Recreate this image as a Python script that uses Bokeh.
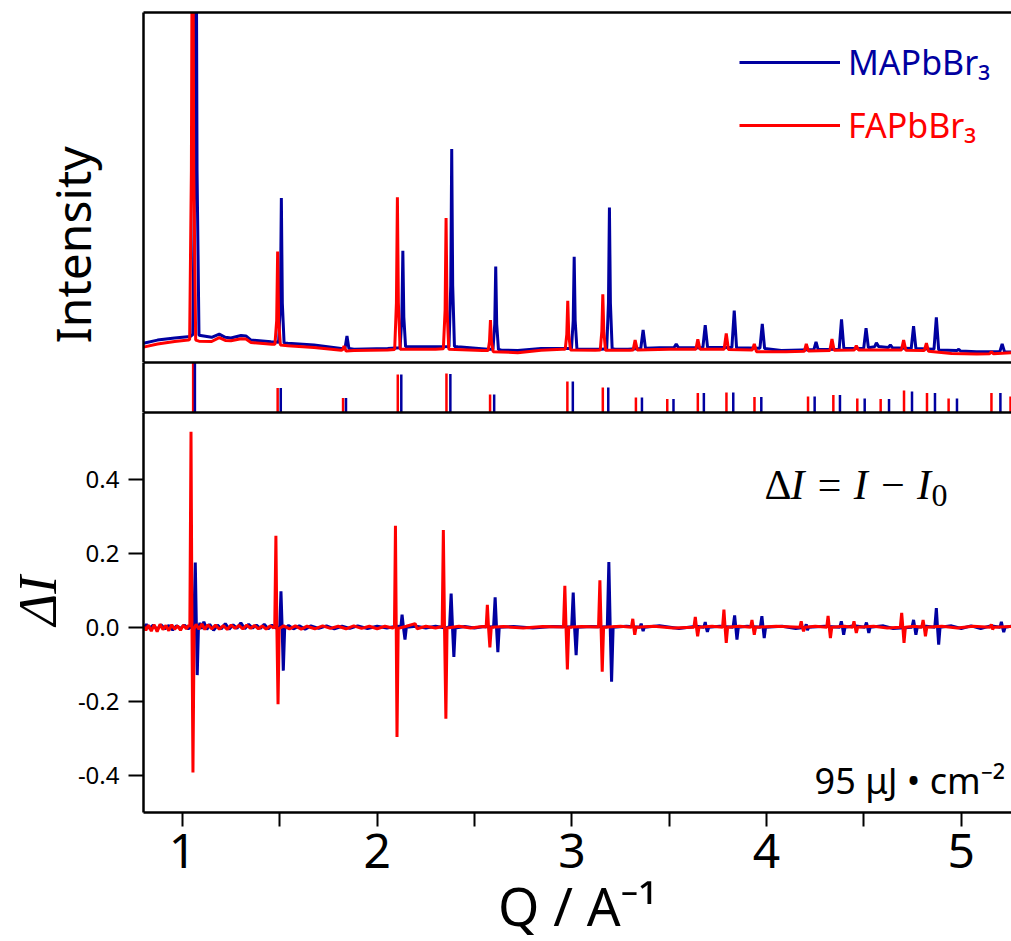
from bokeh.plotting import figure
from bokeh.layouts import column
from bokeh.models import (Range1d, FixedTicker, NumeralTickFormatter, Label, Title,
                          Legend, LegendItem, LinearAxis)
from bokeh.embed import file_html
from bokeh.resources import INLINE

BLUE = "#0000A0"
RED = "#FF0000"

# ---------------- data ----------------
# Powder patterns (top panel): (Q, intensity) points
ma_pattern = [
    (0.800, 0.055), (0.872, 0.064), (0.960, 0.070), (1.040, 0.074),
    (1.053, 0.080), (1.063, 0.55), (1.069, 1.60), (1.075, 0.55), (1.085, 0.078),
    (1.150, 0.072), (1.189, 0.081), (1.220, 0.072), (1.249, 0.070), (1.301, 0.077),
    (1.326, 0.076), (1.352, 0.064), (1.455, 0.059),
    (1.494, 0.058), (1.503, 0.17), (1.508, 0.47), (1.513, 0.17), (1.522, 0.056),
    (1.541, 0.055), (1.676, 0.050), (1.815, 0.040),
    (1.835, 0.041), (1.845, 0.076), (1.855, 0.040),
    (1.881, 0.038), (2.054, 0.040),
    (2.118, 0.042), (2.127, 0.13), (2.132, 0.319), (2.137, 0.13), (2.146, 0.045),
    (2.157, 0.045), (2.328, 0.045),
    (2.369, 0.046), (2.378, 0.22), (2.383, 0.61), (2.388, 0.22), (2.397, 0.046),
    (2.414, 0.045), (2.568, 0.038),
    (2.595, 0.038), (2.604, 0.11), (2.609, 0.274), (2.614, 0.11), (2.623, 0.037),
    (2.637, 0.036), (2.722, 0.034), (2.842, 0.040), (2.979, 0.040),
    (2.998, 0.040), (3.007, 0.12), (3.012, 0.302), (3.017, 0.12), (3.026, 0.039),
    (3.038, 0.038), (3.151, 0.038),
    (3.179, 0.039), (3.188, 0.17), (3.193, 0.443), (3.198, 0.17), (3.207, 0.039),
    (3.223, 0.038), (3.288, 0.038),
    (3.354, 0.040), (3.366, 0.093), (3.378, 0.041), (3.450, 0.042),
    (3.525, 0.043), (3.536, 0.053), (3.547, 0.043), (3.650, 0.042),
    (3.673, 0.043), (3.685, 0.107), (3.697, 0.043),
    (3.822, 0.043), (3.834, 0.148), (3.846, 0.042),
    (3.966, 0.041), (3.978, 0.110), (3.990, 0.040),
    (4.076, 0.034), (4.178, 0.036),
    (4.243, 0.037), (4.254, 0.059), (4.265, 0.037),
    (4.373, 0.038), (4.385, 0.123), (4.397, 0.040),
    (4.499, 0.041), (4.511, 0.098), (4.523, 0.042),
    (4.555, 0.045), (4.564, 0.056), (4.575, 0.046),
    (4.625, 0.043), (4.636, 0.050), (4.647, 0.042),
    (4.743, 0.040), (4.755, 0.104), (4.767, 0.040),
    (4.860, 0.038), (4.872, 0.129), (4.884, 0.036),
    (4.978, 0.034), (4.987, 0.038), (4.996, 0.033), (5.078, 0.031),
    (5.198, 0.031), (5.210, 0.053), (5.222, 0.031), (5.258, 0.030),
]
fa_pattern = [
    (0.800, 0.044), (0.872, 0.053), (0.960, 0.060), (1.030, 0.064),
    (1.037, 0.066), (1.046, 0.55), (1.052, 1.60), (1.058, 0.55), (1.068, 0.064),
    (1.085, 0.061), (1.150, 0.060), (1.189, 0.071), (1.220, 0.063), (1.249, 0.062),
    (1.301, 0.068), (1.326, 0.067), (1.352, 0.057), (1.460, 0.052),
    (1.475, 0.052), (1.484, 0.12), (1.489, 0.317), (1.494, 0.12), (1.503, 0.050),
    (1.541, 0.048), (1.676, 0.043), (1.815, 0.035),
    (1.822, 0.036), (1.830, 0.047), (1.840, 0.033),
    (1.881, 0.034), (2.054, 0.036),
    (2.090, 0.037), (2.099, 0.17), (2.104, 0.472), (2.109, 0.17), (2.118, 0.038),
    (2.300, 0.038),
    (2.340, 0.039), (2.349, 0.15), (2.354, 0.413), (2.359, 0.15), (2.368, 0.038),
    (2.540, 0.034),
    (2.570, 0.034), (2.577, 0.06), (2.582, 0.121), (2.587, 0.06), (2.596, 0.031),
    (2.722, 0.028), (2.842, 0.035), (2.950, 0.038),
    (2.966, 0.038), (2.974, 0.08), (2.979, 0.176), (2.984, 0.08), (2.993, 0.036),
    (3.120, 0.035),
    (3.146, 0.036), (3.154, 0.09), (3.159, 0.195), (3.164, 0.09), (3.173, 0.035),
    (3.300, 0.035),
    (3.315, 0.036), (3.325, 0.064), (3.336, 0.036), (3.500, 0.038),
    (3.637, 0.038), (3.647, 0.066), (3.658, 0.038),
    (3.782, 0.038), (3.793, 0.083), (3.804, 0.037),
    (3.927, 0.036), (3.937, 0.053), (3.948, 0.031), (4.100, 0.031),
    (4.194, 0.032), (4.204, 0.053), (4.215, 0.033),
    (4.325, 0.034), (4.336, 0.067), (4.347, 0.035),
    (4.451, 0.036), (4.461, 0.048), (4.472, 0.036), (4.600, 0.036),
    (4.693, 0.036), (4.704, 0.064), (4.715, 0.035),
    (4.810, 0.034), (4.821, 0.055), (4.832, 0.032),
    (4.950, 0.026), (5.080, 0.024),
    (5.145, 0.025), (5.155, 0.031), (5.165, 0.025), (5.258, 0.028),
]

# Reference reflections (middle panel): positions and relative heights
fa_stick_q = [1.055, 1.489, 1.825, 2.106, 2.356, 2.580, 2.977, 3.159, 3.329, 3.490, 3.647,
              3.794, 3.938, 4.213, 4.343, 4.466, 4.586, 4.706, 4.824, 4.935, 5.155, 5.253]
fa_stick_h = [1.00, 0.49, 0.29, 0.76, 0.78, 0.36, 0.62, 0.50, 0.30, 0.27, 0.39,
              0.40, 0.31, 0.32, 0.35, 0.28, 0.27, 0.44, 0.39, 0.28, 0.39, 0.32]
ma_stick_q = [1.064, 1.505, 1.840, 2.124, 2.376, 2.601, 3.005, 3.187, 3.360, 3.522, 3.678,
              3.829, 3.973, 4.247, 4.377, 4.504, 4.629, 4.747, 4.865, 4.978, 5.201]
ma_stick_h = [1.00, 0.49, 0.29, 0.76, 0.77, 0.36, 0.62, 0.50, 0.30, 0.27, 0.39,
              0.40, 0.31, 0.32, 0.35, 0.28, 0.27, 0.42, 0.39, 0.28, 0.39]

# Difference signals (bottom panel): (Q, dI) points
ma_diff = [
    (0.800, -0.005), (0.815, 0.008), (0.830, -0.003), (0.850, 0.006), (0.870, -0.006),
    (0.890, 0.007), (0.910, -0.004), (0.930, 0.005), (0.950, -0.007), (0.970, 0.004),
    (0.990, -0.003), (1.010, 0.006), (1.030, -0.004), (1.050, 0.003),
    (1.058, 0.0), (1.066, 0.175), (1.071, 0.02), (1.076, -0.129), (1.082, -0.005),
    (1.090, 0.012), (1.100, -0.004), (1.110, 0.015), (1.125, -0.006), (1.140, 0.008),
    (1.160, -0.008), (1.180, 0.006), (1.200, -0.004), (1.220, 0.010), (1.240, -0.005),
    (1.260, 0.007), (1.280, -0.003), (1.300, 0.012), (1.320, -0.004), (1.340, 0.008),
    (1.360, -0.002), (1.380, 0.006), (1.400, -0.003), (1.420, 0.008), (1.440, -0.004),
    (1.460, 0.006), (1.480, -0.002), (1.500, 0.002),
    (1.506, 0.097), (1.512, 0.0), (1.518, -0.117), (1.525, -0.004),
    (1.545, 0.005), (1.570, -0.004), (1.600, 0.004), (1.630, -0.005), (1.660, 0.004),
    (1.700, -0.003), (1.740, 0.004), (1.780, -0.004), (1.820, 0.003), (1.860, -0.003),
    (1.900, 0.004), (1.950, -0.003), (2.000, 0.003), (2.050, -0.002), (2.100, 0.003),
    (2.122, 0.002), (2.128, 0.034), (2.135, 0.0), (2.143, -0.033), (2.150, 0.0),
    (2.200, 0.003), (2.250, -0.002), (2.300, 0.003), (2.350, -0.002), (2.372, 0.002),
    (2.380, 0.091), (2.387, 0.0), (2.394, -0.080), (2.401, -0.002),
    (2.450, 0.002), (2.500, -0.002), (2.550, 0.002), (2.598, 0.001),
    (2.606, 0.081), (2.613, 0.0), (2.620, -0.067), (2.627, 0.0),
    (2.700, 0.002), (2.800, -0.002), (2.900, 0.002), (2.999, 0.001),
    (3.007, 0.094), (3.014, 0.0), (3.022, -0.075), (3.029, 0.0),
    (3.100, 0.002), (3.182, 0.001),
    (3.190, 0.176), (3.197, 0.0), (3.204, -0.147), (3.212, 0.0),
    (3.280, 0.003), (3.350, 0.0), (3.356, 0.010), (3.361, 0.0), (3.366, -0.010), (3.372, 0.0),
    (3.450, 0.004), (3.550, -0.003), (3.640, 0.003),
    (3.678, 0.0), (3.685, 0.014), (3.690, 0.0), (3.696, -0.012), (3.703, 0.0),
    (3.760, 0.003),
    (3.828, 0.0), (3.836, 0.032), (3.842, 0.0), (3.848, -0.033), (3.855, 0.0),
    (3.900, 0.003),
    (3.968, 0.0), (3.976, 0.030), (3.982, 0.0), (3.988, -0.029), (3.995, 0.0),
    (4.080, 0.003), (4.150, -0.003),
    (4.198, 0.0), (4.204, 0.008), (4.210, -0.008), (4.216, 0.0),
    (4.300, 0.003),
    (4.376, 0.0), (4.384, 0.016), (4.390, 0.0), (4.396, -0.020), (4.403, 0.0),
    (4.450, 0.004),
    (4.505, 0.0), (4.513, 0.013), (4.519, 0.0), (4.525, -0.015), (4.532, 0.0),
    (4.600, 0.004), (4.650, -0.003),
    (4.747, 0.0), (4.755, 0.020), (4.761, 0.0), (4.767, -0.020), (4.774, 0.0),
    (4.820, 0.003),
    (4.864, 0.0), (4.872, 0.052), (4.878, 0.0), (4.884, -0.047), (4.891, 0.0),
    (4.950, 0.004), (5.000, -0.003), (5.050, 0.004), (5.100, -0.003), (5.150, 0.004),
    (5.199, 0.0), (5.206, 0.015), (5.212, 0.0), (5.218, -0.013), (5.225, 0.0),
    (5.258, 0.003),
]
fa_diff = [
    (0.800, 0.004), (0.812, -0.008), (0.825, 0.006), (0.840, -0.010), (0.855, 0.007),
    (0.870, -0.012), (0.885, 0.008), (0.900, -0.006), (0.915, 0.005), (0.930, -0.009),
    (0.945, 0.007), (0.960, -0.005), (0.975, 0.004), (0.990, -0.008), (1.005, 0.006),
    (1.020, -0.004), (1.032, 0.005), (1.038, 0.002),
    (1.044, 0.528), (1.049, 0.0), (1.054, -0.392), (1.060, -0.004),
    (1.070, 0.008), (1.085, -0.005), (1.100, 0.009), (1.115, -0.006), (1.130, 0.007),
    (1.150, -0.004), (1.170, 0.006), (1.190, -0.005), (1.210, 0.005), (1.230, -0.006),
    (1.250, 0.006), (1.270, -0.003), (1.290, 0.005), (1.310, -0.004), (1.330, 0.006),
    (1.350, -0.003), (1.370, 0.005), (1.390, -0.004), (1.410, 0.004), (1.430, -0.005),
    (1.450, 0.004), (1.468, -0.002), (1.474, 0.003),
    (1.480, 0.247), (1.485, 0.0), (1.491, -0.208), (1.497, -0.003),
    (1.520, 0.004), (1.550, -0.004), (1.580, 0.004), (1.610, -0.005), (1.640, 0.003),
    (1.680, -0.004), (1.720, 0.004), (1.760, -0.003), (1.800, 0.003), (1.840, -0.004),
    (1.880, 0.004), (1.920, -0.003), (1.960, 0.003), (2.000, -0.004), (2.040, 0.003),
    (2.080, -0.002), (2.089, 0.002),
    (2.094, 0.274), (2.098, 0.0), (2.102, -0.296), (2.108, -0.003),
    (2.150, 0.003), (2.195, 0.010), (2.205, -0.004), (2.250, 0.003), (2.300, -0.002),
    (2.334, 0.002),
    (2.340, 0.263), (2.346, 0.0), (2.353, -0.247), (2.359, -0.002),
    (2.420, 0.003), (2.480, -0.002), (2.540, 0.002), (2.560, 0.001),
    (2.566, 0.061), (2.572, 0.0), (2.579, -0.054), (2.586, 0.0),
    (2.650, 0.002), (2.750, -0.002), (2.850, 0.002), (2.957, 0.001),
    (2.964, 0.112), (2.970, 0.0), (2.977, -0.114), (2.984, 0.0),
    (3.050, 0.002), (3.137, 0.001),
    (3.144, 0.127), (3.150, 0.0), (3.156, -0.120), (3.163, 0.0),
    (3.250, 0.003),
    (3.306, 0.0), (3.313, 0.023), (3.318, 0.0), (3.323, -0.020), (3.330, 0.0),
    (3.420, 0.003), (3.520, -0.002),
    (3.627, 0.0), (3.634, 0.028), (3.640, 0.0), (3.646, -0.024), (3.653, 0.0),
    (3.720, 0.003),
    (3.774, 0.0), (3.781, 0.048), (3.787, 0.0), (3.793, -0.042), (3.800, 0.0),
    (3.860, 0.003),
    (3.918, 0.0), (3.925, 0.020), (3.931, 0.0), (3.937, -0.020), (3.944, 0.0),
    (4.050, 0.003),
    (4.171, 0.0), (4.178, 0.016), (4.184, 0.0), (4.190, -0.011), (4.197, 0.0),
    (4.250, 0.003),
    (4.309, 0.0), (4.316, 0.031), (4.322, 0.0), (4.328, -0.029), (4.335, 0.0),
    (4.400, 0.003),
    (4.442, 0.0), (4.449, 0.016), (4.455, 0.0), (4.461, -0.015), (4.468, 0.0),
    (4.550, 0.003), (4.620, -0.002),
    (4.687, 0.0), (4.694, 0.039), (4.700, 0.0), (4.706, -0.042), (4.713, 0.0),
    (4.760, 0.003),
    (4.797, 0.0), (4.804, 0.020), (4.810, 0.0), (4.816, -0.024), (4.823, 0.0),
    (4.900, 0.003), (4.980, -0.002), (5.060, 0.003),
    (5.148, 0.0), (5.155, 0.008), (5.161, -0.006), (5.168, 0.0), (5.258, 0.002),
]

x_ticks = [1, 2, 3, 4, 5]
x_minor_ticks = [1.5, 2.5, 3.5, 4.5]
dI_ticks = [-0.4, -0.2, 0.0, 0.2, 0.4]
series_names = ["MAPbBr\u2083", "FAPbBr\u2083"]


def cols(points):
    return [a for a, b in points], [b for a, b in points]


XR = Range1d(0.8, 5.258)


def make_fig(height, yr, top, bottom):
    f = figure(width=1011, height=height, output_backend="svg", toolbar_location=None,
               x_range=XR, y_range=yr, x_axis_location=None, y_axis_location=None,
               min_border_left=143, min_border_right=0, min_border_top=top,
               min_border_bottom=bottom)
    f.outline_line_color = None
    f.xgrid.visible = False
    f.ygrid.visible = False
    f.background_fill_color = "white"
    f.border_fill_color = "white"
    return f


def line_axis():
    return LinearAxis(ticker=FixedTicker(ticks=[]), axis_line_color="black",
                      axis_line_width=2.5, major_tick_out=0, major_tick_in=0,
                      minor_tick_out=0, minor_tick_in=0, major_label_standoff=0,
                      major_label_text_font_size="0px")


# ---------- top panel: patterns ----------
fA = make_fig(362, Range1d(0.0, 1.0), 12, 0)
fA.add_layout(line_axis(), "above")
fA.add_layout(line_axis(), "below")
fA.add_layout(line_axis(), "left")
fA.add_layout(Title(text="Intensity", align="left", offset=19, vertical_align="top",
                    standoff=74, text_font="Noto Sans", text_font_size="48px",
                    text_font_style="normal", text_color="black"), "left")
q, v = cols(ma_pattern)
r_ma = fA.line(q, v, line_color=BLUE, line_width=3)
q, v = cols(fa_pattern)
r_fa = fA.line(q, v, line_color=RED, line_width=3)
for name, rend, col, loc in [(series_names[0], r_ma, BLUE, (596, 277)),
                             (series_names[1], r_fa, RED, (596, 214))]:
    fA.add_layout(Legend(items=[LegendItem(label=name, renderers=[rend])], location=loc,
                         border_line_color=None, background_fill_alpha=0, padding=0,
                         margin=0, spacing=0, glyph_width=101, glyph_height=40,
                         label_height=40, label_standoff=8, label_text_font="Noto Sans",
                         label_text_font_size="34px", label_text_color=col))

# ---------- middle panel: reflections ----------
fB = make_fig(50, Range1d(0.0, 1.0), 0, 0)
fB.add_layout(line_axis(), "above")
fB.add_layout(line_axis(), "below")
fB.add_layout(line_axis(), "left")
fB.segment(x0=fa_stick_q, y0=[0] * len(fa_stick_q), x1=fa_stick_q, y1=fa_stick_h,
           line_color=RED, line_width=2.5)
fB.segment(x0=ma_stick_q, y0=[0] * len(ma_stick_q), x1=ma_stick_q, y1=ma_stick_h,
           line_color=BLUE, line_width=2.5)

# ---------- bottom panel: differences ----------
fC = make_fig(529, Range1d(-0.5, 0.58), 0, 129)
fC.add_layout(line_axis(), "above")
q, v = cols(ma_diff)
fC.line(q, v, line_color=BLUE, line_width=3)
q, v = cols(fa_diff)
fC.line(q, v, line_color=RED, line_width=3)

ya = LinearAxis(ticker=FixedTicker(ticks=dI_ticks),
                formatter=NumeralTickFormatter(format="0.0"),
                axis_line_width=2.5, major_tick_line_width=2, major_tick_out=15,
                major_tick_in=0, minor_tick_out=0, minor_tick_in=0,
                major_label_text_font="Noto Sans", major_label_text_font_size="24px",
                major_label_text_color="black", major_label_standoff=9)
fC.add_layout(ya, "left")
fC.add_layout(Title(text="\u0394I", align="left", offset=187, vertical_align="top",
                    standoff=10, text_font="Liberation Serif", text_font_size="54px",
                    text_font_style="italic", text_color="black"), "left")

xa = LinearAxis(ticker=FixedTicker(ticks=x_ticks, minor_ticks=x_minor_ticks),
                axis_line_width=2.5, major_tick_line_width=2, minor_tick_line_width=2,
                major_tick_out=14, major_tick_in=0, minor_tick_out=14, minor_tick_in=0,
                major_label_text_font="Noto Sans", major_label_text_font_size="48px",
                major_label_text_color="black", major_label_standoff=7)
fC.add_layout(xa, "below")
fC.add_layout(Title(text="Q / A\u207b\u00b9", align="center", vertical_align="bottom",
                    standoff=-8, text_font="Noto Sans", text_font_size="53px",
                    text_font_style="normal", text_color="black"), "below")

fC.add_layout(Label(x=3.989, y=0.3856, text="\u0394", text_align="left",
                    text_baseline="alphabetic", text_font="Liberation Serif",
                    text_font_size="42px", text_color="black"))
fC.add_layout(Label(x=4.1227, y=0.3856, text="I = I \u2212 I", text_align="left",
                    text_baseline="alphabetic", text_font="Liberation Serif",
                    text_font_style="italic", text_font_size="42px", text_color="black"))
fC.add_layout(Label(x=4.847, y=0.3567, text="0", text_align="left",
                    text_baseline="alphabetic", text_font="Liberation Serif",
                    text_font_size="32px", text_color="black"))
fC.add_layout(Label(x=5.227, y=-0.4136, text="95 \u03bcJ \u2022 cm\u207b\u00b2",
                    text_align="right", text_baseline="alphabetic",
                    text_font="Noto Sans", text_font_size="36px", text_color="black"))

layout = column(fA, fB, fC, spacing=0)
open("out.html", "w").write(file_html(layout, INLINE))
